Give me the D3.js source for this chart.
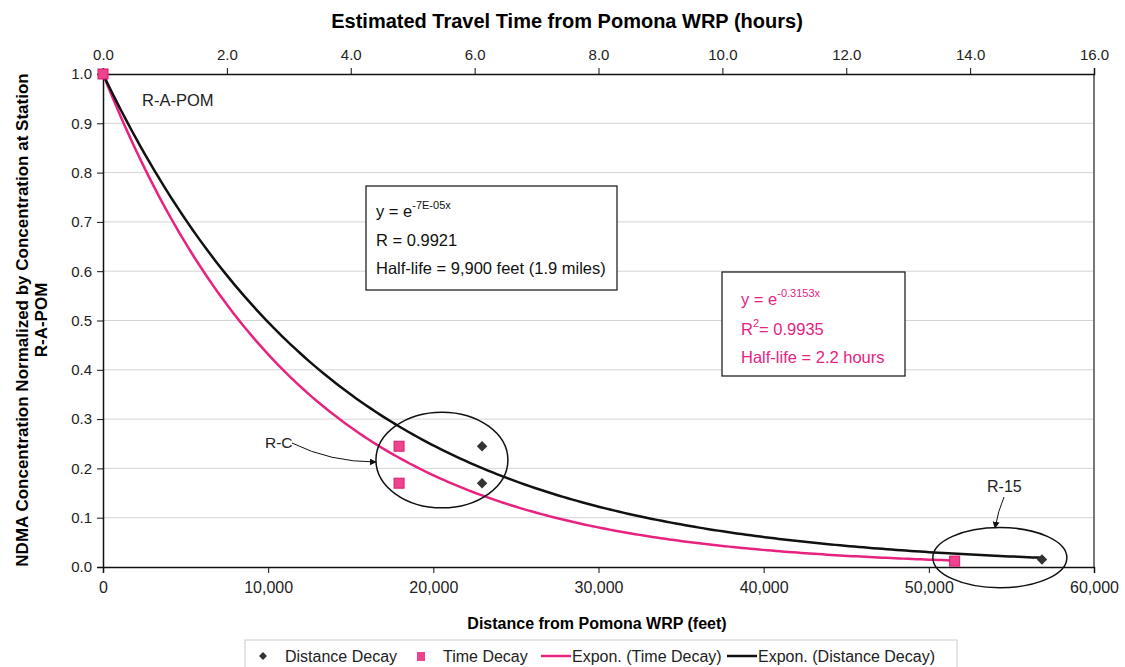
<!DOCTYPE html>
<html>
<head>
<meta charset="utf-8">
<script src="https://cdn.jsdelivr.net/npm/d3@7"></script>
<style>
  body { margin: 0; background: #fff; }
  text { font-family: "Liberation Sans", Arial, sans-serif; }
</style>
</head>
<body>
<div id="chart"></div>
<script>
const width = 1125;
const height = 667;
const plot = { left: 103, right: 1094, top: 74, bottom: 567 };

// station data
const distanceFeet = [0, 22950, 22950, 56850];
const distanceConc = [1.0, 0.245, 0.17, 0.015];
const timeHours = [0, 4.78, 4.78, 13.75];
const timeConc = [1.0, 0.245, 0.17, 0.012];

// fitted exponential coefficients printed on the chart
const distanceRate = 7e-5;
const timeRate = 0.3153;

// axis ticks
const yTicks = [0, 0.1, 0.2, 0.3, 0.4, 0.5, 0.6, 0.7, 0.8, 0.9, 1.0];
const xTicks = [0, 10000, 20000, 30000, 40000, 50000, 60000];
const topTicks = [0, 2, 4, 6, 8, 10, 12, 14, 16];

const pink = "#e8227f";

const svg = d3
  .select("#chart")
  .append("svg")
  .attr("width", width)
  .attr("height", height);

const xScale = d3.scaleLinear().domain([0, 60000]).range([plot.left, plot.right]);
const tScale = d3.scaleLinear().domain([0, 16]).range([plot.left, plot.right]);
const yScale = d3.scaleLinear().domain([0, 1]).range([plot.bottom, plot.top]);

// gridlines
svg
  .append("g")
  .selectAll("line")
  .data(yTicks.slice(1, -1))
  .enter()
  .append("line")
  .attr("x1", plot.left)
  .attr("x2", plot.right)
  .attr("y1", (d) => yScale(d))
  .attr("y2", (d) => yScale(d))
  .attr("stroke", "#d4d4d4")
  .attr("stroke-width", 1);

// right border
svg
  .append("line")
  .attr("x1", plot.right)
  .attr("x2", plot.right)
  .attr("y1", plot.top)
  .attr("y2", plot.bottom)
  .attr("stroke", "#777")
  .attr("stroke-width", 2);

// axes
const styleAxis = (g, size) => {
  g.select(".domain").attr("stroke", "#111").attr("stroke-width", 1.5);
  g.selectAll(".tick line").attr("stroke", "#111");
  g.selectAll(".tick text")
    .attr("fill", "#222")
    .style("font-size", size + "px")
    .style("font-family", '"Liberation Sans", Arial, sans-serif');
};

svg
  .append("g")
  .attr("transform", "translate(0," + plot.bottom + ")")
  .call(d3.axisBottom(xScale).tickValues(xTicks).tickFormat(d3.format(",")).tickSizeOuter(0).tickSize(6).tickPadding(9))
  .call((g) => styleAxis(g, 16));

svg
  .append("g")
  .attr("transform", "translate(0," + plot.top + ")")
  .call(d3.axisTop(tScale).tickValues(topTicks).tickFormat(d3.format(".1f")).tickSizeOuter(0).tickSize(6).tickPadding(8))
  .call((g) => styleAxis(g, 15));

svg
  .append("g")
  .attr("transform", "translate(" + plot.left + ",0)")
  .call(d3.axisLeft(yScale).tickValues(yTicks).tickFormat(d3.format(".1f")).tickSizeOuter(0).tickSize(6).tickPadding(5))
  .call((g) => styleAxis(g, 15));

// axis titles
svg
  .append("text")
  .attr("x", 567)
  .attr("y", 28)
  .attr("text-anchor", "middle")
  .style("font-size", "20px")
  .style("font-weight", "bold")
  .text("Estimated Travel Time from Pomona WRP (hours)");

svg
  .append("text")
  .attr("x", 597)
  .attr("y", 629)
  .attr("text-anchor", "middle")
  .style("font-size", "16px")
  .style("font-weight", "bold")
  .text("Distance from Pomona WRP (feet)");

const yTitle = svg
  .append("text")
  .attr("transform", "translate(28,320) rotate(-90)")
  .attr("text-anchor", "middle")
  .style("font-size", "17px")
  .style("font-weight", "bold");
yTitle.append("tspan").attr("x", 0).attr("dy", 0).text("NDMA Concentration Normalized by Concentration at Station");
yTitle.append("tspan").attr("x", 0).attr("dy", 19).text("R-A-POM");

// trend lines from the printed fits, drawn over each series' range
const trendSamples = (maxX, steps) => d3.range(steps + 1).map((i) => (maxX * i) / steps);

const timeLine = d3
  .line()
  .x((d) => tScale(d))
  .y((d) => yScale(Math.exp(-timeRate * d)));
const distLine = d3
  .line()
  .x((d) => xScale(d))
  .y((d) => yScale(Math.exp(-distanceRate * d)));

svg
  .append("path")
  .attr("d", timeLine(trendSamples(d3.max(timeHours), 200)))
  .attr("fill", "none")
  .attr("stroke", pink)
  .attr("stroke-width", 2.5);

svg
  .append("path")
  .attr("d", distLine(trendSamples(d3.max(distanceFeet), 200)))
  .attr("fill", "none")
  .attr("stroke", "#111")
  .attr("stroke-width", 2.5);

// markers
const diamond = d3.symbol().type(d3.symbolDiamond2).size(70);
svg
  .append("g")
  .selectAll("path")
  .data(distanceFeet.map((d, i) => [d, distanceConc[i]]))
  .enter()
  .append("path")
  .attr("d", diamond)
  .attr("transform", (d) => "translate(" + xScale(d[0]) + "," + yScale(d[1]) + ")")
  .attr("fill", "#333");

svg
  .append("g")
  .selectAll("rect")
  .data(timeHours.map((d, i) => [d, timeConc[i]]))
  .enter()
  .append("rect")
  .attr("x", (d) => tScale(d[0]) - 5)
  .attr("y", (d) => yScale(d[1]) - 5)
  .attr("width", 10)
  .attr("height", 10)
  .attr("fill", "#f0438e")
  .attr("stroke", "#d81b6f");

// station annotations
svg
  .append("text")
  .attr("x", 142)
  .attr("y", 106)
  .style("font-size", "16.5px")
  .attr("fill", "#222")
  .text("R-A-POM");

const ellipses = [
  { cx: 20520, cy: 0.217, rx: 3995, ry: 0.097 },
  { cx: 54300, cy: 0.019, rx: 4056, ry: 0.061 },
];
svg
  .append("g")
  .selectAll("ellipse")
  .data(ellipses)
  .enter()
  .append("ellipse")
  .attr("cx", (d) => xScale(d.cx))
  .attr("cy", (d) => yScale(d.cy))
  .attr("rx", (d) => xScale(d.rx) - xScale(0))
  .attr("ry", (d) => yScale(0) - yScale(d.ry))
  .attr("fill", "none")
  .attr("stroke", "#111")
  .attr("stroke-width", 1.5);

svg
  .append("defs")
  .append("marker")
  .attr("id", "arrow")
  .attr("viewBox", "0 0 10 10")
  .attr("refX", 9)
  .attr("refY", 5)
  .attr("markerWidth", 7)
  .attr("markerHeight", 7)
  .attr("orient", "auto")
  .append("path")
  .attr("d", "M0,0L10,5L0,10z")
  .attr("fill", "#111");

svg
  .append("text")
  .attr("x", 265)
  .attr("y", 448)
  .style("font-size", "15.5px")
  .attr("fill", "#222")
  .text("R-C");
svg
  .append("path")
  .attr("d", "M292,443 Q330,462 376,462")
  .attr("fill", "none")
  .attr("stroke", "#111")
  .attr("stroke-width", 1)
  .attr("marker-end", "url(#arrow)");

svg
  .append("text")
  .attr("x", 987)
  .attr("y", 492)
  .style("font-size", "16px")
  .attr("fill", "#222")
  .text("R-15");
svg
  .append("path")
  .attr("d", "M1004,497 Q998,511 995,528")
  .attr("fill", "none")
  .attr("stroke", "#111")
  .attr("stroke-width", 1)
  .attr("marker-end", "url(#arrow)");

// fit equation boxes
const eqBox = (x, y, w, h, color, lines) => {
  const g = svg.append("g");
  g.append("rect")
    .attr("x", x)
    .attr("y", y)
    .attr("width", w)
    .attr("height", h)
    .attr("fill", "#fff")
    .attr("stroke", "#111")
    .attr("stroke-width", 1.2);
  lines.forEach((ln) => {
    const t = g
      .append("text")
      .attr("x", x + ln.dx)
      .attr("y", y + ln.dy)
      .attr("fill", color)
      .style("font-size", "16.5px");
    t.append("tspan").text(ln.main);
    if (ln.sup) {
      t.append("tspan").attr("dy", -8).style("font-size", "11px").text(ln.sup);
      if (ln.after) t.append("tspan").attr("dy", 8).text(ln.after);
    }
  });
};

eqBox(366, 186, 251, 104, "#111", [
  { dx: 10, dy: 31, main: "y = e", sup: "-7E-05x" },
  { dx: 10, dy: 60, main: "R  = 0.9921" },
  { dx: 10, dy: 88, main: "Half-life = 9,900 feet (1.9 miles)" },
]);

eqBox(722, 272, 183, 104, pink, [
  { dx: 19, dy: 33, main: "y = e", sup: "-0.3153x" },
  { dx: 19, dy: 63, main: "R", sup: "2", after: "= 0.9935" },
  { dx: 19, dy: 91, main: "Half-life = 2.2 hours" },
]);

// legend
const legend = svg.append("g");
legend
  .append("rect")
  .attr("x", 245)
  .attr("y", 640)
  .attr("width", 712)
  .attr("height", 40)
  .attr("fill", "#fff")
  .attr("stroke", "#ccc");

const legendItems = [
  { kind: "diamond", label: "Distance Decay", x: 263 },
  { kind: "square", label: "Time Decay", x: 421 },
  { kind: "pinkline", label: "Expon. (Time Decay)", x: 541 },
  { kind: "blackline", label: "Expon. (Distance Decay)", x: 727 },
];
const ly = 656;
legendItems.forEach((it) => {
  let textX = it.x + 22;
  if (it.kind === "diamond") {
    legend
      .append("path")
      .attr("d", d3.symbol().type(d3.symbolDiamond2).size(40))
      .attr("transform", "translate(" + it.x + "," + ly + ")")
      .attr("fill", "#333");
  } else if (it.kind === "square") {
    legend
      .append("rect")
      .attr("x", it.x - 4)
      .attr("y", ly - 4)
      .attr("width", 8)
      .attr("height", 9)
      .attr("fill", "#f0438e");
  } else {
    legend
      .append("line")
      .attr("x1", it.x)
      .attr("x2", it.x + 30)
      .attr("y1", ly)
      .attr("y2", ly)
      .attr("stroke", it.kind === "pinkline" ? pink : "#111")
      .attr("stroke-width", 2.5);
    textX = it.x + 31;
  }
  legend
    .append("text")
    .attr("x", textX)
    .attr("y", ly + 6)
    .style("font-size", "16px")
    .attr("fill", "#222")
    .text(it.label);
});
</script>
</body>
</html>
